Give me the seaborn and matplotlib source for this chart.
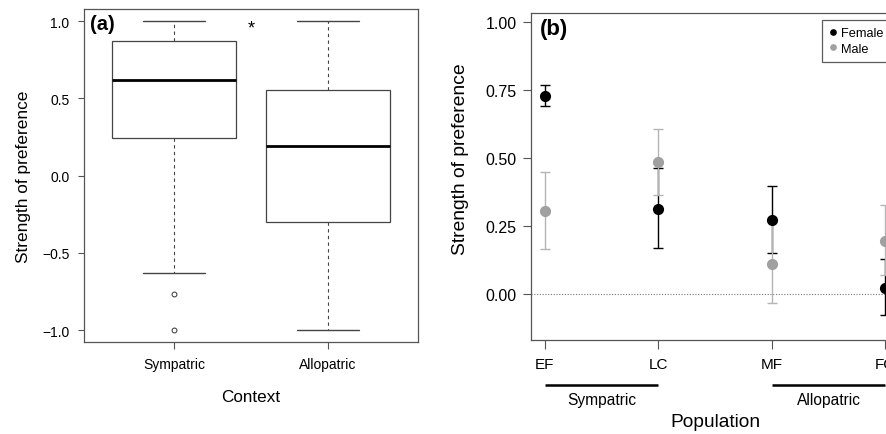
import numpy as np
import pandas as pd
import matplotlib
matplotlib.use("Agg")
import matplotlib.pyplot as plt
import matplotlib.transforms as mtransforms
from matplotlib.lines import Line2D
import seaborn as sns

# ---------------- data ----------------
contexts = ["Sympatric", "Allopatric"]
sympatric_vals = [-1.0, -0.763, -0.631, 0.241, 0.241, 0.241, 0.616,
                  0.869, 0.869, 0.869, 1.0, 1.0, 1.0]
allopatric_vals = [-1.0, -0.303, 0.193, 0.556, 1.0]

populations = ["EF", "LC", "MF", "FC"]
female_mean = [0.730, 0.313, 0.272, 0.023]
female_lo = [0.692, 0.168, 0.150, -0.077]
female_hi = [0.768, 0.463, 0.396, 0.129]
male_mean = [0.304, 0.487, 0.109, 0.196]
male_lo = [0.165, 0.364, -0.034, 0.070]
male_hi = [0.448, 0.607, 0.272, 0.328]

ytick_a = [-1.0, -0.5, 0.0, 0.5, 1.0]
ytick_b = [0.00, 0.25, 0.50, 0.75, 1.00]

# ---------------- style ----------------
sns.set_theme(style="white")
plt.rcParams["font.family"] = ["Liberation Sans", "DejaVu Sans"]
plt.rcParams["text.color"] = "black"
plt.rcParams["axes.labelcolor"] = "black"
plt.rcParams["xtick.color"] = "black"
plt.rcParams["ytick.color"] = "black"
SPINE = "#555555"

W, H = 886, 435
fig = plt.figure(figsize=(W / 100, H / 100), dpi=100)

def ax_rect(l, t, r, b):
    return [l / W, 1 - b / H, (r - l) / W, (b - t) / H]

ax1 = fig.add_axes(ax_rect(84, 10, 418, 343.3))
ax2 = fig.add_axes(ax_rect(531, 14, 899, 340.7))

# ---------------- panel (a) ----------------
df_a = pd.DataFrame({
    "Context": ["Sympatric"] * len(sympatric_vals) + ["Allopatric"] * len(allopatric_vals),
    "value": sympatric_vals + allopatric_vals,
})
sns.boxplot(data=df_a, x="Context", y="value", order=contexts, ax=ax1,
            color="white", linecolor="#444444", linewidth=0.9, width=0.8,
            whis=1.5, fliersize=3.5,
            medianprops={"linewidth": 2.0, "color": "black"},
            whiskerprops={"linestyle": (0, (3, 3)), "linewidth": 0.8},
            capprops={"linewidth": 1.0},
            flierprops={"marker": "o", "markerfacecolor": "none",
                        "markeredgecolor": "#333333", "markeredgewidth": 0.7})
ax1.set_xlim(-0.584, 1.585)
ax1.set_ylim(-1.078, 1.078)
ax1.set_yticks(ytick_a)
ax1.set_yticklabels([f"{v:.1f}".replace("-", "\u2212") for v in ytick_a])
ax1.tick_params(axis="y", length=4.5, width=0.8, color=SPINE, pad=6,
                labelsize=10, left=True, labelcolor="black")
ax1.tick_params(axis="x", length=4.8, width=0.8, color=SPINE, pad=5.5,
                labelsize=10, bottom=True, labelcolor="black")
ax1.set_xlabel("Context", fontsize=12.3)
ax1.set_ylabel("Strength of preference", fontsize=12.4)
ax1.xaxis.set_label_coords(0.5, (343.3 - 397.3) / 333.3)
ax1.xaxis.label.set_va("center")
ax1.yaxis.set_label_coords((24 - 84) / 334, 0.5)
ax1.yaxis.label.set_va("center")
for s in ax1.spines.values():
    s.set_color(SPINE)
    s.set_linewidth(0.9)
fig.text(90 / W, 1 - 24.5 / H, "(a)", fontsize=14.5, fontweight="bold",
         ha="left", va="center")
ax1.text(0.5, 0.955, "*", fontsize=13, ha="center", va="center")

# ---------------- panel (b) ----------------
df_b = pd.DataFrame({
    "Population": populations * 2,
    "Sex": ["Female"] * 4 + ["Male"] * 4,
    "value": female_mean + male_mean,
})
xpos = np.arange(len(populations))
fm = np.array(female_mean)
mm = np.array(male_mean)
ax2.axhline(0, color="#777777", linestyle=(0, (1, 1.5)), linewidth=0.8, zorder=1)
ax2.errorbar(xpos, fm, yerr=[fm - np.array(female_lo), np.array(female_hi) - fm],
             fmt="none", ecolor="black", elinewidth=1.0, capsize=3.3,
             capthick=1.0, zorder=2)
ax2.errorbar(xpos, mm, yerr=[mm - np.array(male_lo), np.array(male_hi) - mm],
             fmt="none", ecolor="#b5b5b5", elinewidth=1.0, capsize=3.3,
             capthick=1.0, zorder=2)
sns.pointplot(data=df_b, x="Population", y="value", hue="Sex",
              order=populations, hue_order=["Male", "Female"],
              palette={"Female": "black", "Male": "#a0a0a0"},
              errorbar=None, linestyle="none", markers="o", markersize=6,
              dodge=False, legend=False, ax=ax2, zorder=3)
ax2.set_xlim(-0.12, 3.12)
ax2.set_ylim(-0.168, 1.034)
ax2.set_yticks(ytick_b)
ax2.set_yticklabels([f"{v:.2f}" for v in ytick_b])
ax2.tick_params(axis="y", length=6, width=0.8, color=SPINE, pad=4.5,
                labelsize=11.5, left=True, labelcolor="black")
ax2.tick_params(axis="x", length=6.7, width=0.8, color=SPINE, pad=5.5,
                labelsize=11, bottom=True, labelcolor="black")
ax2.set_xlabel("Population", fontsize=13.8)
ax2.set_ylabel("Strength of preference", fontsize=13.9)
ax2.xaxis.set_label_coords(0.5, (340.7 - 423) / 326.7)
ax2.xaxis.label.set_va("center")
ax2.yaxis.set_label_coords((460.7 - 531) / 368, (340.7 - 159) / 326.7)
ax2.yaxis.label.set_va("center")
for s in ax2.spines.values():
    s.set_color(SPINE)
    s.set_linewidth(0.9)
fig.text(540 / W, 1 - 29.3 / H, "(b)", fontsize=16, fontweight="bold",
         ha="left", va="center")

# group brackets
trans = mtransforms.blended_transform_factory(ax2.transData, ax2.transAxes)
y_line = (340.7 - 385.7) / 326.7
y_txt = (340.7 - 401) / 326.7
for (a, b), lab in [((0, 1), "Sympatric"), ((2, 3), "Allopatric")]:
    ax2.plot([a, b], [y_line, y_line], color="black", linewidth=1.8,
             transform=trans, clip_on=False, solid_capstyle="butt")
    ax2.text((a + b) / 2, y_txt, lab, transform=trans, ha="center",
             va="center", fontsize=11.2)

# legend
handles = [Line2D([], [], marker="o", linestyle="none", color="black", markersize=3.8),
           Line2D([], [], marker="o", linestyle="none", color="#a0a0a0", markersize=3.8)]
leg = fig.legend(handles, ["Female", "Male"], loc="upper left",
                 bbox_to_anchor=(821.5 / W, 1 - 20.7 / H), fontsize=9.2,
                 frameon=True, fancybox=False, borderpad=0.6,
                 handlelength=0.6, handletextpad=0.35, labelspacing=0.25,
                 borderaxespad=0)
leg.get_frame().set_edgecolor("#333333")
leg.get_frame().set_linewidth(0.9)

fig.savefig("out.png", dpi=100)
